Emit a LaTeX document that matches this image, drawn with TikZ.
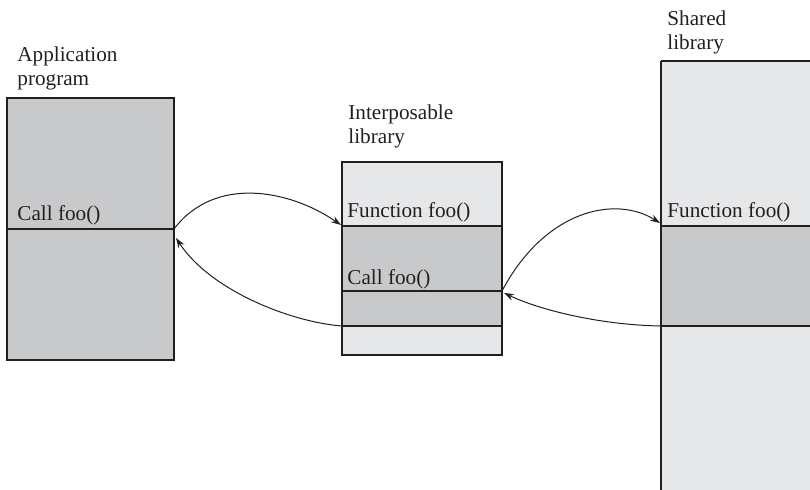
\documentclass[tikz,border=0pt]{standalone}
\usepackage{fontspec}
\setmainfont{Liberation Serif}
\usepackage{tikz}
\usetikzlibrary{arrows.meta}
\definecolor{midgray}{RGB}{200,201,203}
\definecolor{lightgray}{RGB}{230,231,233}
\definecolor{inkline}{RGB}{35,31,32}

\begin{document}
\begin{tikzpicture}[x=0.5pt, y=-0.5pt,
    txt/.style={anchor=base west, inner sep=0pt, align=left,
      font=\fontsize{10.6}{12}\selectfont, text=inkline},
    outline/.style={draw=inkline, line width=1.2pt},
    divider/.style={draw=inkline, line width=0.6pt},
    call/.style={draw=inkline, line width=0.5pt,
      -{Stealth[length=5pt, width=3.4pt]}}]
\useasboundingbox (0,0) rectangle (810,490);

% Programme d'application
\fill[midgray] (7,98) rectangle (174,360);
\draw[divider] (7,229) -- (174,229);
\draw[outline] (7,98) rectangle (174,360);
\node[txt] (applbl) at (17,86) {Application\\program};
\node[txt] (appcall) at (17,221) {Call foo()};
\coordinate (appout) at (174,229);
\coordinate (appin) at (176,238);

% Bibliotheque interposable
\fill[lightgray] (342,162) rectangle (502,355);
\fill[midgray] (342,226) rectangle (502,326);
\draw[divider] (342,226) -- (502,226);
\draw[divider] (342,291) -- (502,291);
\draw[divider] (342,326) -- (502,326);
\draw[outline] (342,162) rectangle (502,355);
\node[txt] (iplbl) at (348,144) {Interposable\\library};
\node[txt] (ipfunc) at (347,218) {Function foo()};
\node[txt] (ipcall) at (347,285) {Call foo()};
\coordinate (ipin) at (341,225);
\coordinate (ipret) at (342,326);
\coordinate (ipout) at (502,291);
\coordinate (ipback) at (504,293);

% Bibliotheque partagee (coupee au bord)
\begin{scope}
\clip (0,0) rectangle (810,490);
\fill[lightgray] (661,61) rectangle (820,500);
\fill[midgray] (661,226) rectangle (820,326);
\draw[divider] (661,226) -- (820,226);
\draw[divider] (661,326) -- (820,326);
\draw[outline] (661,61) -- (820,61);
\draw[outline] (661,61) -- (661,500);
\end{scope}
\node[txt] (shlbl) at (667,50) {Shared\\library};
\node[txt] (shfunc) at (667,218) {Function foo()};
\coordinate (shin) at (660,223);
\coordinate (shret) at (661,326);

% Appels et retours
\draw[call] (appout) .. controls (215,175) and (290,190) .. (ipin);
\draw[call] (ipret) .. controls (290,322) and (210,290) .. (appin);
\draw[call] (ipout) .. controls (545,210) and (615,195) .. (shin);
\draw[call] (shret) .. controls (600,325) and (540,310) .. (ipback);
\end{tikzpicture}
\end{document}
